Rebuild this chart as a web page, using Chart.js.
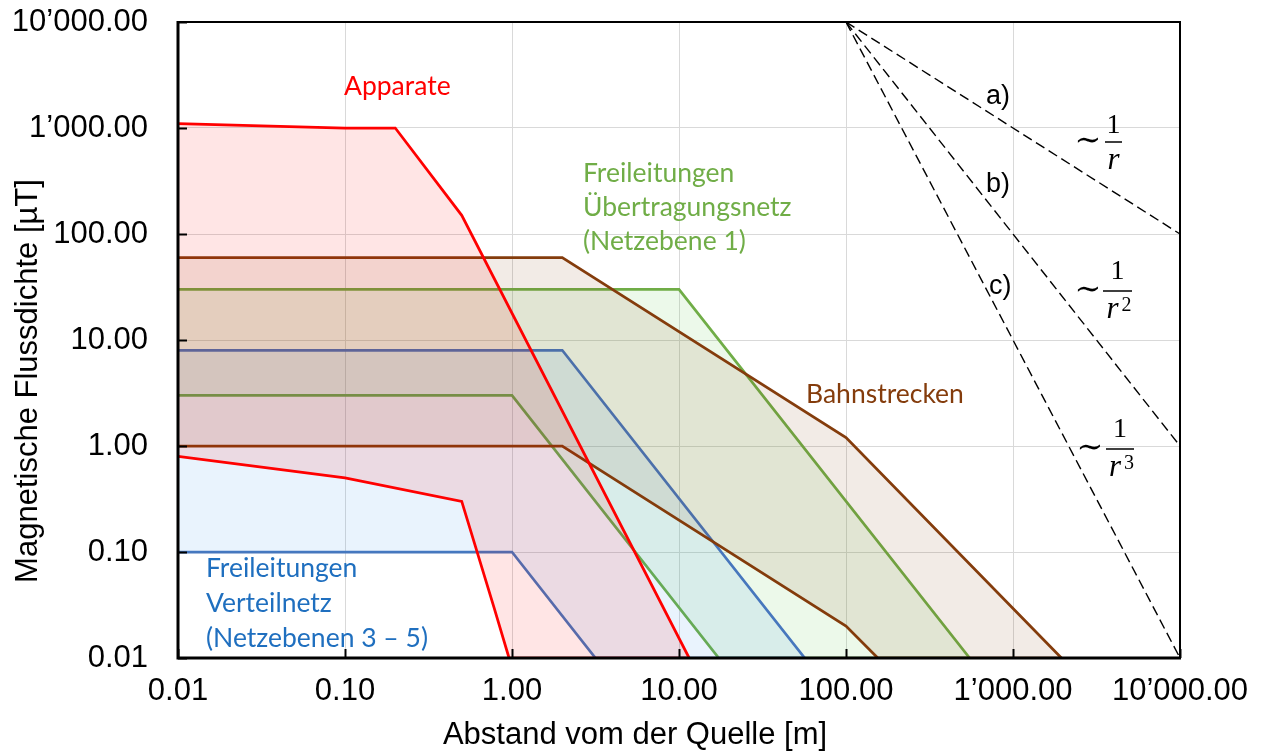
<!DOCTYPE html>
<html>
<head>
<meta charset="utf-8">
<script src="https://cdn.jsdelivr.net/npm/chart.js@4/dist/chart.umd.min.js"></script>
<style>
  html, body { margin: 0; padding: 0; background: #ffffff; }
  canvas { display: block; }
</style>
</head>
<body>
<canvas id="chart" width="1268" height="752"></canvas>
<script>
// Decade ticks shared by both logarithmic axes
const decadeTicks  = [0.01, 0.1, 1, 10, 100, 1000, 10000];
const decadeLabels = ['0.01', '0.10', '1.00', '10.00', '100.00', '1\u2019000.00', '10\u2019000.00'];

// Apparate (upper and lower envelope)
const apparateUpperX = [0.01, 0.1, 0.2, 0.5, 11.5];
const apparateUpperY = [1100, 1000, 1000, 150, 0.01];
const apparateLowerX = [0.01, 0.1, 0.5, 0.78, 0.96, 11.5];
const apparateLowerY = [0.8, 0.5, 0.3, 0.03, 0.01, 0.01];

// Bahnstrecken
const bahnUpperX = [0.01, 2, 100, 1950];
const bahnUpperY = [60, 60, 1.2, 0.01];
const bahnLowerX = [0.01, 2, 100, 155, 1950];
const bahnLowerY = [1, 1, 0.02, 0.01, 0.01];

// Freileitungen Verteilnetz (Netzebenen 3 - 5)
const verteilUpperX = [0.01, 2, 56.6];
const verteilUpperY = [8, 8, 0.01];
const verteilLowerX = [0.01, 1, 3.16, 56.6];
const verteilLowerY = [0.1, 0.1, 0.01, 0.01];

// Freileitungen Übertragungsnetz (Netzebene 1)
const uebertrUpperX = [0.01, 10, 550];
const uebertrUpperY = [30, 30, 0.01];
const uebertrLowerX = [0.01, 1, 17.3, 550];
const uebertrLowerY = [3, 3, 0.01, 0.01];

// Reference slopes a) 1/r, b) 1/r^2, c) 1/r^3
const slopeOriginX = [100];
const slopeOriginY = [10000];
const slopeEndX = [10000, 10000, 10000];
const slopeEndY = [100, 1, 0.01];

const pts = (xs, ys) => xs.map((x, i) => ({ x: x, y: ys[i] }));

const RED = '#ff0000', BROWN = '#843c0c', BLUE = '#4777bd', GREEN = '#70ad47';

const band = (label, upper, lower, color, fillColor, order) => [
  { label: label, data: upper, borderColor: color, backgroundColor: fillColor, fill: '+1', order: order, borderWidth: 2.75 },
  { label: label + ' (min)', data: lower, borderColor: color, backgroundColor: 'transparent', fill: false, order: order, borderWidth: 2.75 }
];

const slopeSets = slopeEndX.map((x, i) => ({
  label: ['a)', 'b)', 'c)'][i],
  data: pts([slopeOriginX[0], x], [slopeOriginY[0], slopeEndY[i]]),
  borderColor: '#000000',
  borderWidth: 1.4,
  borderDash: [10, 5],
  fill: false,
  order: 0
}));

const datasets = [
  ...band('Apparate', pts(apparateUpperX, apparateUpperY), pts(apparateLowerX, apparateLowerY), RED, 'rgba(255,0,0,0.1)', 1),
  ...band('Bahnstrecken', pts(bahnUpperX, bahnUpperY), pts(bahnLowerX, bahnLowerY), BROWN, 'rgba(132,60,12,0.1)', 2),
  ...band('Freileitungen Verteilnetz', pts(verteilUpperX, verteilUpperY), pts(verteilLowerX, verteilLowerY), BLUE, 'rgba(40,140,240,0.1)', 3),
  ...band('Freileitungen Übertragungsnetz', pts(uebertrUpperX, uebertrUpperY), pts(uebertrLowerX, uebertrLowerY), GREEN, 'rgba(80,200,60,0.11)', 4),
  ...slopeSets
];

const AXIS_FONT = "'Liberation Sans', Arial, sans-serif";
const NOTE_FONT = "Lato, 'Open Sans', sans-serif";
const MATH_FONT = "'Liberation Serif', 'DejaVu Serif', serif";

// Frame, inner tick marks and text annotations
const decorations = {
  id: 'decorations',
  afterDatasetsDraw(chart) {
    const { ctx, chartArea: a, scales } = chart;
    ctx.save();
    // inner tick marks
    ctx.strokeStyle = '#000000';
    ctx.lineWidth = 2;
    decadeTicks.forEach(v => {
      const y = Math.round(scales.y.getPixelForValue(v)) + 0.5;
      ctx.beginPath(); ctx.moveTo(a.left, y); ctx.lineTo(a.left + 9, y); ctx.stroke();
      const x = Math.round(scales.x.getPixelForValue(v)) + 0.5;
      ctx.beginPath(); ctx.moveTo(x, a.bottom); ctx.lineTo(x, a.bottom - 9); ctx.stroke();
    });
    // frame
    ctx.lineWidth = 2;
    ctx.beginPath(); ctx.moveTo(a.left, a.top); ctx.lineTo(a.right, a.top); ctx.lineTo(a.right, a.bottom); ctx.stroke();
    ctx.lineWidth = 3;
    ctx.beginPath(); ctx.moveTo(a.left, a.top - 1); ctx.lineTo(a.left, a.bottom); ctx.lineTo(a.right + 1, a.bottom); ctx.stroke();

    // series labels
    ctx.textAlign = 'left';
    ctx.textBaseline = 'alphabetic';
    ctx.font = '26.5px ' + NOTE_FONT;
    ctx.fillStyle = RED;
    ctx.fillText('Apparate', 344, 95);
    ctx.fillStyle = GREEN;
    ctx.fillText('Freileitungen', 583, 182);
    ctx.fillText('Übertragungsnetz', 583, 216);
    ctx.fillText('(Netzebene 1)', 583, 250);
    ctx.fillStyle = BROWN;
    ctx.fillText('Bahnstrecken', 806, 403);
    ctx.fillStyle = '#1f6fbf';
    ctx.fillText('Freileitungen', 206, 577);
    ctx.fillText('Verteilnetz', 206, 612);
    ctx.fillText('(Netzebenen 3 \u2013 5)', 206, 647);

    // slope labels
    ctx.fillStyle = '#000000';
    ctx.font = '27px ' + AXIS_FONT;
    ctx.fillText('a)', 986, 104);
    ctx.fillText('b)', 986, 192);
    ctx.fillText('c)', 989, 294);

    // fractions ~1/r^n
    const fraction = (tx, bx0, bx1, by, numGap, exp) => {
      ctx.font = '32px ' + MATH_FONT;
      ctx.textAlign = 'center';
      ctx.textBaseline = 'middle';
      ctx.fillText('\u223C', tx, by);
      ctx.font = '28px ' + MATH_FONT;
      ctx.textBaseline = 'alphabetic';
      const cx = (bx0 + bx1) / 2;
      ctx.fillRect(bx0, by - 0.75, bx1 - bx0, 1.5);
      ctx.fillText('1', cx, by - numGap);
      ctx.font = 'italic 31px ' + MATH_FONT;
      if (exp) {
        ctx.fillText('r', cx - 5, by + 27);
        ctx.font = '20px ' + MATH_FONT;
        ctx.fillText(exp, cx + 9, by + 20);
      } else {
        ctx.fillText('r', cx, by + 27);
      }
    };
    fraction(1088, 1105, 1122, 142, 9, '');
    fraction(1088, 1103, 1132, 291, 12, '2');
    fraction(1090, 1106, 1134, 449, 12, '3');
    ctx.restore();
  },
  afterDraw(chart) {
    const { ctx } = chart;
    ctx.save();
    ctx.fillStyle = '#000000';
    ctx.font = '31px ' + AXIS_FONT;
    ctx.textAlign = 'center';
    ctx.textBaseline = 'alphabetic';
    ctx.fillText('Abstand vom der Quelle [m]', 635, 744);
    ctx.translate(37, 381);
    ctx.rotate(-Math.PI / 2);
    ctx.fillText('Magnetische Flussdichte [\u00B5T]', 0, 0);
    ctx.restore();
  }
};

const decadeAxis = (position, fitFn, pad) => ({
  type: 'logarithmic',
  position: position,
  min: 0.01,
  max: 10000,
  afterBuildTicks: s => { s.ticks = decadeTicks.map(v => ({ value: v, major: true })); },
  afterFit: fitFn,
  ticks: {
    autoSkip: false,
    maxRotation: 0,
    padding: pad,
    color: '#000000',
    font: { family: AXIS_FONT, size: 31 },
    callback: (v, i) => decadeLabels[i]
  },
  grid: { color: '#d9d9d9', lineWidth: 1, drawTicks: false },
  border: { display: false }
});

new Chart(document.getElementById('chart'), {
  type: 'line',
  data: { datasets: datasets },
  plugins: [decorations],
  options: {
    responsive: false,
    animation: false,
    layout: { padding: { left: 0, top: 22, right: 88, bottom: 0 } },
    elements: {
      point: { radius: 0, hoverRadius: 0 },
      line: { tension: 0, borderJoinStyle: 'miter', borderCapStyle: 'butt' }
    },
    plugins: {
      legend: { display: false },
      tooltip: { enabled: false },
      filler: { propagate: false }
    },
    scales: {
      x: decadeAxis('bottom', s => { s.height = 94; s.paddingLeft = 0; s.paddingRight = 0; }, 15),
      y: decadeAxis('left', s => { s.width = 178; s.paddingTop = 0; s.paddingBottom = 0; }, 30)
    }
  }
});
</script>
</body>
</html>
